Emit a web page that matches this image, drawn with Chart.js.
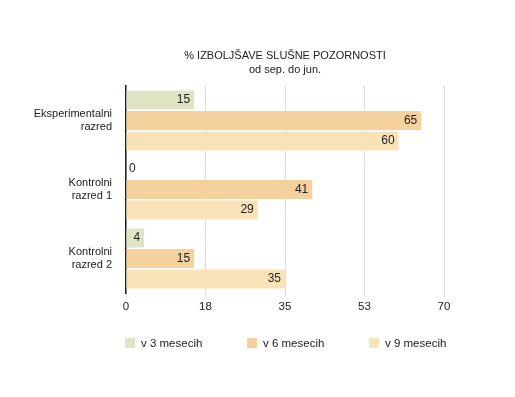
<!DOCTYPE html>
<html>
<head>
<meta charset="utf-8">
<script src="https://cdn.jsdelivr.net/npm/chart.js@4"></script>
<style>
  html, body { margin: 0; padding: 0; background: #fff; }
  #wrap { position: relative; width: 515px; height: 397px; font-family: "Liberation Sans", Arial, Helvetica, sans-serif; color: #222; }
  #chart { position: absolute; left: 0; top: 0; }
  #title { position: absolute; left: 126px; width: 318px; top: 48px; text-align: center; font-size: 11px; line-height: 14px; }
  #legend { position: absolute; left: 125px; top: 337px; display: flex; font-size: 11.5px; }
  .item { width: 122px; display: flex; align-items: center; }
  .box { width: 10px; height: 10px; margin-right: 6px; }
</style>
</head>
<body>
<div id="wrap">
  <canvas id="chart" width="515" height="397"></canvas>
  <div id="title">% IZBOLJŠAVE SLUŠNE POZORNOSTI<br>od sep. do jun.</div>
  <div id="legend"></div>
</div>
<script>
const categories = [["Eksperimentalni", "razred"], ["Kontrolni", "razred 1"], ["Kontrolni", "razred 2"]];
const seriesNames = ["v 3 mesecih", "v 6 mesecih", "v 9 mesecih"];
const v3 = [15, 0, 4];
const v6 = [65, 41, 15];
const v9 = [60, 29, 35];
const tickValues = [0, 17.5, 35, 52.5, 70];
const colors = ["#e1e4c4", "#f5d19e", "#f8e2b8"];

const seriesValues = [v3, v6, v9];
const datasets = seriesNames.map((name, i) => ({
  label: name,
  data: seriesValues[i],
  backgroundColor: colors[i],
  categoryPercentage: 0.89,
  barPercentage: 0.93
}));

const FONT = '"Liberation Sans", Arial, Helvetica, sans-serif';

const valueLabels = {
  id: 'valueLabels',
  afterDatasetsDraw(chart) {
    const ctx = chart.ctx;
    ctx.save();
    ctx.font = '12px ' + FONT;
    ctx.fillStyle = '#222';
    ctx.textBaseline = 'middle';
    chart.data.datasets.forEach((ds, di) => {
      const meta = chart.getDatasetMeta(di);
      meta.data.forEach((bar, i) => {
        const v = ds.data[i];
        if (v === 0) {
          ctx.textAlign = 'left';
          ctx.fillText(String(v), bar.base + 3, bar.y);
        } else {
          ctx.textAlign = 'right';
          ctx.fillText(String(v), bar.x - 4, bar.y);
        }
      });
    });
    ctx.restore();
  }
};

new Chart(document.getElementById('chart'), {
  type: 'bar',
  data: { labels: categories, datasets },
  options: {
    indexAxis: 'y',
    responsive: false,
    animation: false,
    layout: { padding: { top: 86, bottom: 74, left: 0, right: 71 } },
    plugins: { legend: { display: false }, title: { display: false }, tooltip: { enabled: false } },
    scales: {
      x: {
        min: 0, max: 70,
        afterBuildTicks(scale) { scale.ticks = tickValues.map(v => ({ value: v })); },
        afterFit(scale) { scale.height = 30; },
        ticks: {
          callback: v => String(Math.round(v)),
          color: '#222',
          font: { family: FONT, size: 11.5 },
          padding: 3,
          maxRotation: 0
        },
        grid: { color: '#dddddd', lineWidth: 1, tickLength: 4, drawTicks: true },
        border: { display: false }
      },
      y: {
        afterFit(scale) { scale.width = 126; },
        ticks: {
          color: '#222',
          font: { family: FONT, size: 11, lineHeight: 1.2 },
          padding: 14
        },
        grid: { display: false, drawTicks: false },
        border: { display: true, color: '#222', width: 1.5 }
      }
    }
  },
  plugins: [valueLabels]
});

const legend = document.getElementById('legend');
seriesNames.forEach((name, i) => {
  const item = document.createElement('div');
  item.className = 'item';
  const box = document.createElement('span');
  box.className = 'box';
  box.style.background = colors[i];
  const txt = document.createElement('span');
  txt.textContent = name;
  item.appendChild(box);
  item.appendChild(txt);
  legend.appendChild(item);
});
</script>
</body>
</html>
